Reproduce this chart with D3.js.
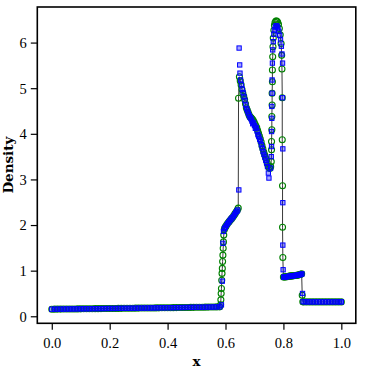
<!DOCTYPE html>
<html>
<head>
<meta charset="utf-8">
<script src="https://cdn.jsdelivr.net/npm/d3@7"></script>
<style>
  body { margin: 0; background: #fff; }
  .tick text { font-family: "Liberation Serif", serif; font-size: 14.5px; fill: #000; }
  .axis-label { font-family: "DejaVu Serif", serif; font-weight: bold; font-size: 13.5px; fill: #000; }
</style>
</head>
<body>
<div id="chart"></div>
<script>
// tick values
var xTicks = [0.0, 0.2, 0.4, 0.6, 0.8, 1.0];
var yTicks = [0, 1, 2, 3, 4, 5, 6];

// green circles (also traced by the thin black line): [x, density]
var greenPts = [
  [0.00,.155],[0.01,.156],[0.02,.157],[0.03,.157],[0.04,.158],[0.05,.159],[0.06,.160],[0.07,.160],[0.08,.161],[0.09,.162],
  [0.10,.163],[0.11,.164],[0.12,.164],[0.13,.165],[0.14,.166],[0.15,.167],[0.16,.167],[0.17,.168],[0.18,.169],[0.19,.170],
  [0.20,.171],[0.21,.171],[0.22,.172],[0.23,.173],[0.24,.174],[0.25,.175],[0.26,.175],[0.27,.176],[0.28,.177],[0.29,.178],
  [0.30,.179],[0.31,.180],[0.32,.180],[0.33,.181],[0.34,.182],[0.35,.183],[0.36,.184],[0.37,.185],[0.38,.186],[0.39,.186],
  [0.40,.187],[0.41,.188],[0.42,.189],[0.43,.190],[0.44,.191],[0.45,.192],[0.46,.193],[0.47,.194],[0.48,.195],[0.49,.196],
  [0.50,.197],[0.51,.198],[0.52,.199],[0.53,.200],[0.54,.201],[0.55,.202],[0.56,.204],[0.57,.205],[0.58,.207],
  [0.583,.25],[0.584,.36],[0.585,.50],[0.586,.61],[0.587,.79],[0.588,.94],[0.589,1.05],[0.590,1.20],[0.591,1.34],
  [0.592,1.49],[0.593,1.63],[0.594,1.78],[0.596,1.90],
  [0.598,1.94],[0.601,1.97],[0.605,2.01],[0.609,2.05],[0.613,2.08],[0.617,2.11],[0.621,2.14],[0.625,2.17],[0.629,2.21],
  [0.633,2.25],[0.637,2.29],[0.641,2.33],[0.644,2.37],
  [0.645,4.78],
  [0.648,5.25],[0.651,5.16],[0.654,5.07],[0.657,4.97],[0.660,4.89],[0.663,4.82],[0.666,4.75],[0.669,4.66],[0.672,4.57],
  [0.675,4.52],[0.678,4.47],[0.681,4.42],[0.684,4.38],[0.687,4.36],[0.690,4.34],[0.693,4.32],[0.696,4.29],[0.699,4.25],
  [0.702,4.21],[0.705,4.17],[0.708,4.13],[0.711,4.07],[0.714,4.01],[0.717,3.95],[0.720,3.89],[0.723,3.82],[0.726,3.74],
  [0.729,3.67],[0.732,3.60],[0.735,3.54],[0.738,3.48],[0.741,3.43],[0.744,3.36],[0.747,3.30],[0.750,3.26],[0.753,3.24],
  [0.756,3.28],
  [0.758,3.39],[0.759,3.65],[0.759,3.83],[0.760,4.09],[0.760,4.38],[0.761,4.63],[0.761,4.89],[0.762,5.14],[0.762,5.40],
  [0.763,5.69],[0.764,5.91],
  [0.765,6.10],[0.767,6.27],[0.769,6.38],[0.771,6.44],[0.774,6.47],[0.777,6.47],[0.780,6.45],[0.783,6.40],[0.786,6.31],
  [0.789,6.17],[0.792,5.98],[0.794,5.72],
  [0.795,5.42],[0.796,4.79],[0.796,3.87],[0.797,2.86],[0.797,1.95],[0.798,1.29],
  [0.800,.86],[0.803,.86],[0.806,.86],[0.809,.865],[0.812,.87],[0.815,.87],[0.818,.875],[0.821,.88],[0.824,.88],
  [0.827,.885],[0.830,.885],[0.833,.89],[0.836,.89],[0.839,.895],[0.842,.895],[0.845,.90],[0.848,.90],[0.851,.905],
  [0.854,.91],[0.857,.915],[0.860,.92],[0.863,.93],
  [0.865,.46],
  [0.867,.32],[0.870,.315],[0.880,.315],[0.890,.315],[0.900,.315],[0.910,.315],[0.920,.315],[0.930,.315],[0.940,.315],
  [0.950,.315],[0.960,.315],[0.970,.315],[0.980,.315],[0.990,.315],[1.000,.315]
];

// blue squares: [x, density]
var bluePts = [
  [0.00,.155],[0.01,.156],[0.02,.157],[0.03,.157],[0.04,.158],[0.05,.159],[0.06,.160],[0.07,.160],[0.08,.161],[0.09,.162],
  [0.10,.163],[0.11,.164],[0.12,.164],[0.13,.165],[0.14,.166],[0.15,.167],[0.16,.167],[0.17,.168],[0.18,.169],[0.19,.170],
  [0.20,.171],[0.21,.171],[0.22,.172],[0.23,.173],[0.24,.174],[0.25,.175],[0.26,.175],[0.27,.176],[0.28,.177],[0.29,.178],
  [0.30,.179],[0.31,.180],[0.32,.180],[0.33,.181],[0.34,.182],[0.35,.183],[0.36,.184],[0.37,.185],[0.38,.186],[0.39,.186],
  [0.40,.187],[0.41,.188],[0.42,.189],[0.43,.190],[0.44,.191],[0.45,.192],[0.46,.193],[0.47,.194],[0.48,.195],[0.49,.196],
  [0.50,.197],[0.51,.198],[0.52,.199],[0.53,.200],[0.54,.201],[0.55,.202],[0.56,.204],[0.57,.205],[0.58,.207],
  [0.586,.25],[0.589,.77],[0.591,1.60],[0.593,1.86],
  [0.596,1.92],[0.599,1.95],[0.603,1.99],[0.607,2.03],[0.611,2.06],[0.615,2.10],[0.619,2.13],[0.623,2.16],[0.627,2.19],
  [0.631,2.23],[0.635,2.27],[0.639,2.30],[0.642,2.33],
  [0.646,2.77],[0.647,5.88],[0.649,5.51],[0.650,5.33],
  [0.652,5.18],[0.655,5.08],[0.658,4.98],[0.661,4.90],[0.664,4.81],[0.667,4.73],[0.670,4.63],[0.673,4.55],[0.676,4.50],
  [0.679,4.45],[0.682,4.40],[0.685,4.36],[0.688,4.33],[0.691,4.28],[0.694,4.22],[0.697,4.24],[0.700,4.18],[0.703,4.12],
  [0.706,4.14],[0.709,4.06],[0.712,3.98],[0.715,3.94],[0.718,3.88],[0.721,3.84],[0.724,3.76],[0.727,3.69],[0.730,3.61],
  [0.733,3.55],[0.736,3.49],[0.739,3.42],[0.742,3.36],[0.745,3.28],[0.748,3.14],[0.750,3.03],
  [0.756,3.25],[0.758,3.50],[0.759,3.72],[0.759,4.05],[0.760,4.34],[0.760,4.60],[0.761,4.89],[0.761,5.18],[0.762,5.55],
  [0.763,5.84],
  [0.765,6.02],[0.767,6.18],[0.769,6.28],[0.772,6.34],[0.775,6.37],[0.778,6.36],[0.781,6.32],[0.784,6.25],[0.787,6.16],
  [0.790,6.06],[0.793,5.92],[0.795,5.75],
  [0.797,5.55],[0.797,4.79],[0.798,3.67],[0.798,2.49],[0.798,1.56],[0.799,1.02],
  [0.801,.86],[0.804,.86],[0.807,.86],[0.810,.865],[0.813,.87],[0.816,.87],[0.819,.875],[0.822,.88],[0.825,.88],
  [0.828,.885],[0.831,.885],[0.834,.89],[0.837,.89],[0.840,.895],[0.843,.895],[0.846,.90],[0.849,.90],[0.852,.905],
  [0.855,.91],[0.858,.915],[0.861,.92],[0.864,.93],
  [0.866,.50],
  [0.868,.32],[0.875,.315],[0.885,.315],[0.895,.315],[0.905,.315],[0.915,.315],[0.925,.315],[0.935,.315],[0.945,.315],
  [0.955,.315],[0.965,.315],[0.975,.315],[0.985,.315],[0.995,.315],[1.000,.315]
];

var W = 365, H = 370;
var plot = { left: 37.3, right: 355.8, top: 7, bottom: 323.3 };

var svg = d3.select("#chart").append("svg")
    .attr("width", W).attr("height", H);

var x = d3.scaleLinear().domain([-0.05, 1.05]).range([plot.left, plot.right]);
var y = d3.scaleLinear().domain([-0.154, 6.78]).range([plot.bottom, plot.top]);

// axes
var xAxis = svg.append("g")
    .attr("transform", "translate(0," + plot.bottom + ")")
    .call(d3.axisBottom(x).tickValues(xTicks).tickFormat(d3.format(".1f"))
        .tickSize(6.5).tickSizeOuter(0).tickPadding(8));
var yAxis = svg.append("g")
    .attr("transform", "translate(" + plot.left + ",0)")
    .call(d3.axisLeft(y).tickValues(yTicks).tickFormat(d3.format("d"))
        .tickSize(6.5).tickSizeOuter(0).tickPadding(4));
[xAxis, yAxis].forEach(function(g) {
    g.select(".domain").remove();
    g.selectAll(".tick line").attr("stroke", "#000").attr("stroke-width", 1.2);
});
xAxis.selectAll(".tick text").attr("dy", "0.72em");
yAxis.selectAll(".tick text").attr("dy", "0.34em");

// thin black line through the green series
var line = d3.line().x(function(d) { return x(d[0]); }).y(function(d) { return y(d[1]); });
svg.append("path")
    .datum(greenPts)
    .attr("d", line)
    .attr("fill", "none")
    .attr("stroke", "#222")
    .attr("stroke-width", 0.9);

// green circles
svg.append("g").selectAll("circle")
    .data(greenPts)
    .enter()
    .append("circle")
    .attr("cx", function(d) { return x(d[0]); })
    .attr("cy", function(d) { return y(d[1]); })
    .attr("r", 3)
    .attr("fill", "none")
    .attr("stroke", "#008000")
    .attr("stroke-width", 1.1);

// blue squares
var s = 4.3;
svg.append("g").selectAll("rect")
    .data(bluePts)
    .enter()
    .append("rect")
    .attr("x", function(d) { return x(d[0]) - s / 2; })
    .attr("y", function(d) { return y(d[1]) - s / 2; })
    .attr("width", s).attr("height", s)
    .attr("fill", "rgba(0,0,255,0.35)")
    .attr("stroke", "#0000ff")
    .attr("stroke-width", 1);

// frame
svg.append("rect")
    .attr("x", plot.left).attr("y", plot.top)
    .attr("width", plot.right - plot.left).attr("height", plot.bottom - plot.top)
    .attr("fill", "none").attr("stroke", "#000").attr("stroke-width", 1.6);

// axis labels
svg.append("text")
    .attr("class", "axis-label")
    .attr("x", (plot.left + plot.right) / 2).attr("y", 366)
    .attr("text-anchor", "middle")
    .text("x");
svg.append("text")
    .attr("class", "axis-label")
    .attr("transform", "translate(12.5," + ((plot.top + plot.bottom) / 2) + ") rotate(-90)")
    .attr("text-anchor", "middle")
    .text("Density");
</script>
</body>
</html>
